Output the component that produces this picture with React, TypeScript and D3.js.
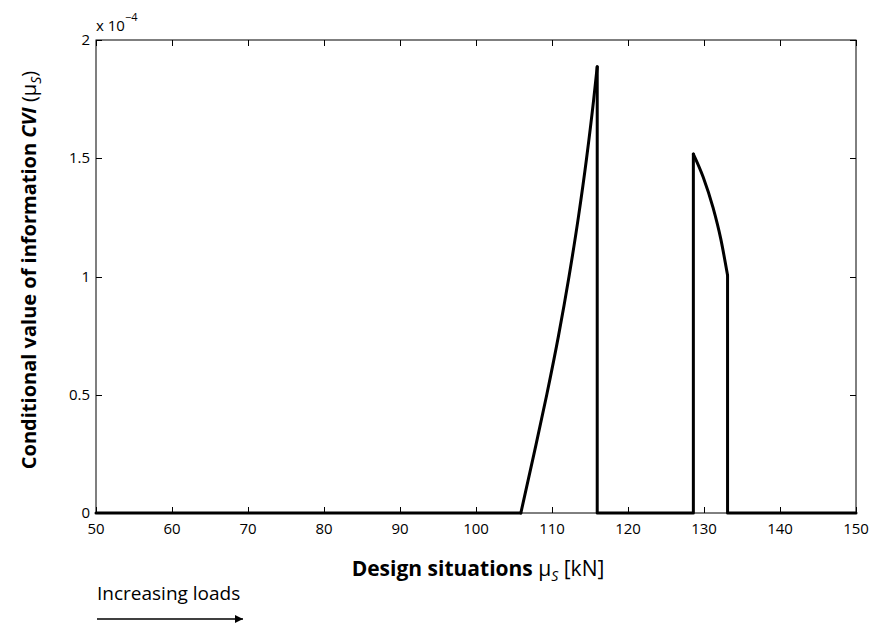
import React, { useEffect, useRef } from "react";
import * as d3 from "d3";

// Conditional value of information CVI (×1e-4) over design situations μS [kN]
const zeroLeftX = [50, 105.9];
const zeroLeftY = [0, 0];
const riseX = [105.9, 107.63, 109.31, 110.86, 112.24, 113.47, 114.55, 115.49, 115.95];
const riseY = [0, 0.25, 0.5, 0.75, 1.0, 1.25, 1.5, 1.75, 1.887];
const gapX = [115.95, 115.95, 128.6, 128.6];
const gapY = [1.887, 0, 0, 1.518];
const fallX = [128.6, 129.9, 131.2, 132.2, 133.1];
const fallY = [1.518, 1.42, 1.29, 1.16, 1.005];
const tailX = [133.1, 133.1, 150];
const tailY = [1.005, 0, 0];

const xTicks = [50, 60, 70, 80, 90, 100, 110, 120, 130, 140, 150];
const yTicks = [0, 0.5, 1, 1.5, 2];
const yTickLabels = ["0", "0.5", "1", "1.5", "2"];

const W = 872;
const H = 628;
const M = { left: 96, top: 40, right: 856, bottom: 513 };
const FONT = "'Open Sans', 'Noto Sans', sans-serif";

export default function App() {
  const ref = useRef<SVGSVGElement>(null);

  useEffect(() => {
    const svg = d3.select(ref.current);
    svg.selectAll("*").remove();

    const x = d3.scaleLinear().domain([50, 150]).range([M.left, M.right]);
    const y = d3.scaleLinear().domain([0, 2]).range([M.bottom, M.top]);

    const defs = svg.append("defs");
    defs
      .append("marker")
      .attr("id", "arrowhead")
      .attr("viewBox", "0 0 10 10")
      .attr("refX", 10)
      .attr("refY", 5)
      .attr("markerWidth", 15)
      .attr("markerHeight", 8)
      .attr("markerUnits", "userSpaceOnUse")
      .attr("orient", "auto")
      .append("path")
      .attr("d", "M0,0 L10,5 L0,10 Z")
      .attr("fill", "#000");

    // Frame
    svg
      .append("rect")
      .attr("x", M.left)
      .attr("y", M.top)
      .attr("width", M.right - M.left)
      .attr("height", M.bottom - M.top)
      .attr("fill", "none")
      .attr("stroke", "#000")
      .attr("stroke-width", 1);

    const tickLen = 6;
    const g = svg.append("g").attr("stroke", "#000").attr("stroke-width", 1);
    xTicks.forEach((t) => {
      const px = Math.round(x(t)) + 0.5;
      g.append("line").attr("x1", px).attr("x2", px).attr("y1", M.bottom).attr("y2", M.bottom - tickLen);
      g.append("line").attr("x1", px).attr("x2", px).attr("y1", M.top).attr("y2", M.top + tickLen);
    });
    yTicks.forEach((t) => {
      const py = Math.round(y(t)) + 0.5;
      g.append("line").attr("x1", M.left).attr("x2", M.left + tickLen).attr("y1", py).attr("y2", py);
      g.append("line").attr("x1", M.right).attr("x2", M.right - tickLen).attr("y1", py).attr("y2", py);
    });

    // Tick labels
    xTicks.forEach((t) => {
      svg
        .append("text")
        .attr("x", x(t))
        .attr("y", M.bottom + 21)
        .attr("text-anchor", "middle")
        .attr("font-family", FONT)
        .attr("font-size", 15)
        .text(String(t));
    });
    yTicks.forEach((t, i) => {
      svg
        .append("text")
        .attr("x", M.left - 6)
        .attr("y", y(t) + 5)
        .attr("text-anchor", "end")
        .attr("font-family", FONT)
        .attr("font-size", 15)
        .text(yTickLabels[i]);
    });

    // Exponent
    const ex = svg
      .append("text")
      .attr("x", M.left)
      .attr("y", 31)
      .attr("font-family", FONT)
      .attr("font-size", 15);
    ex.append("tspan").text("x 10");
    ex.append("tspan").attr("font-size", 11).attr("dy", -10).text("\u22124");

    // Data line
    const line = d3
      .line<[number, number]>()
      .x((d) => x(d[0]))
      .y((d) => y(d[1]));
    const smooth = d3
      .line<[number, number]>()
      .x((d) => x(d[0]))
      .y((d) => y(d[1]))
      .curve(d3.curveMonotoneX);

    const pairs = (xs: number[], ys: number[]) => xs.map((v, i) => [v, ys[i]] as [number, number]);
    const segs = [
      line(pairs(zeroLeftX, zeroLeftY)),
      smooth(pairs(riseX, riseY)),
      line(pairs(gapX, gapY)),
      smooth(pairs(fallX, fallY)),
      line(pairs(tailX, tailY)),
    ];
    segs.forEach((d) => {
      svg
        .append("path")
        .attr("d", d)
        .attr("fill", "none")
        .attr("stroke", "#000")
        .attr("stroke-width", 3)
        .attr("stroke-linejoin", "round")
        .attr("stroke-linecap", "round");
    });

    // X axis label
    const xl = svg
      .append("text")
      .attr("x", 478)
      .attr("y", 576)
      .attr("text-anchor", "middle")
      .attr("font-family", FONT)
      .attr("font-size", 21);
    xl.append("tspan").attr("font-weight", "bold").text("Design situations ");
    xl.append("tspan").text("\u03bc");
    xl.append("tspan").attr("font-size", 14).attr("font-style", "italic").attr("dy", 5).text("S");
    xl.append("tspan").attr("dy", -5).text(" [kN]");

    // Y axis label
    const yl = svg
      .append("text")
      .attr("transform", `translate(36, 270) rotate(-90)`)
      .attr("text-anchor", "middle")
      .attr("font-family", FONT)
      .attr("font-size", 20);
    yl.append("tspan").attr("font-weight", "bold").text("Conditional value of information ");
    yl.append("tspan").attr("font-weight", "bold").attr("font-style", "italic").text("CVI");
    yl.append("tspan").text(" (\u03bc");
    yl.append("tspan").attr("font-size", 14).attr("font-style", "italic").attr("dy", 5).text("S");
    yl.append("tspan").attr("dy", -5).text(")");

    // Load direction annotation
    svg
      .append("text")
      .attr("x", 97)
      .attr("y", 600)
      .attr("font-family", FONT)
      .attr("font-size", 19)
      .text("Increasing loads");
    svg
      .append("line")
      .attr("x1", 97)
      .attr("x2", 243)
      .attr("y1", 619)
      .attr("y2", 619)
      .attr("stroke", "#000")
      .attr("stroke-width", 1.5)
      .attr("marker-end", "url(#arrowhead)");
  }, []);

  return (
    <svg
      ref={ref}
      width={W}
      height={H}
      style={{ display: "block", position: "absolute", left: 0, top: 0, background: "#fff" }}
    />
  );
}
